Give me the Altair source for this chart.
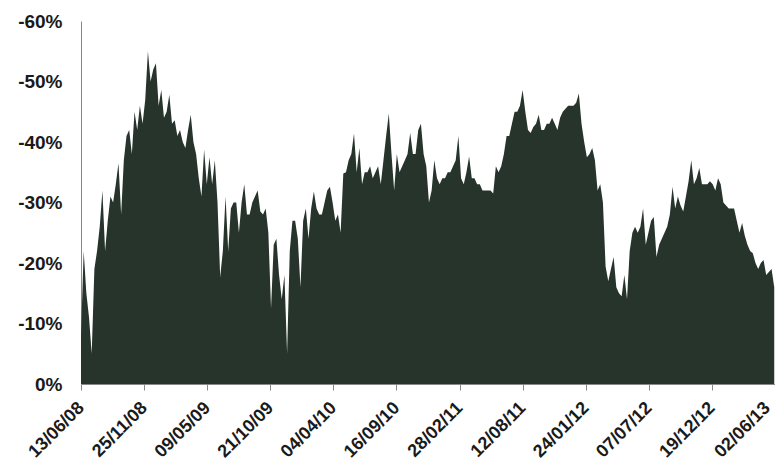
import altair as alt
import pandas as pd

# Drawdown (%), one value per week starting 13/06/08
drawdown_pct = [
    8, 22, 15, 11, 5, 19, 22, 26, 32, 22,
    27, 31, 30, 33, 36.5, 28, 37, 41, 42, 38,
    45, 42, 46, 43, 47, 55, 50, 52, 53, 46,
    48.6, 44, 45, 47.8, 43, 43.6, 41, 42, 40, 39,
    42, 44.5, 40, 38, 34, 31, 38.7, 33, 37.5, 33,
    37, 30, 17.7, 22, 31, 22, 29, 30, 30, 25,
    30, 33, 28, 28, 30, 31, 32, 28.5, 28, 29,
    25, 12.5, 23, 24, 18, 14, 18, 5, 22, 27,
    27, 24, 16, 27, 29, 24, 29, 31.8, 29, 28,
    28, 30, 32, 32.6, 30, 27, 28, 25, 34.8, 35,
    37, 38, 41.4, 35, 39, 33, 35, 35, 36, 34,
    35, 36, 33, 37, 41, 44.7, 38, 32, 38, 35,
    36, 37, 38, 41.5, 38, 38, 42, 43, 38, 36,
    30, 32, 37, 34, 33, 34, 34, 35, 35, 36,
    37, 41, 34, 33, 35, 37.6, 34, 34, 33, 33,
    32, 32, 32, 32, 31.5, 36, 35, 36, 38, 41,
    41, 43, 45, 45, 46, 48.6, 45, 42, 41.5, 42.5,
    43, 44.5, 42, 42, 43, 43, 44, 43, 42, 44,
    45, 45.5, 46, 46, 46, 46.5, 48, 43, 40, 37.5,
    38, 39, 37, 32, 33, 30, 19.4, 17, 19, 21,
    16, 15, 14.5, 18, 14, 22, 25, 26, 25, 26,
    29, 23, 25, 27, 27.6, 21, 23, 24, 25, 26,
    28, 32.6, 29, 31, 29.5, 28.5, 31, 33.5, 37, 33,
    34, 35.7, 33, 33, 33, 33.5, 33, 32, 34, 33,
    30, 29.5, 29, 29, 29, 27, 25, 26.6, 24.5, 23,
    22, 21.6, 20, 19, 20, 20.5, 18, 18.5, 19, 16,
]
start_date = "2008-06-13"
end_date = "2013-06-02"
tick_dates = [
    "2008-06-13", "2008-11-25", "2009-05-09", "2009-10-21",
    "2010-04-04", "2010-09-16", "2011-02-28", "2011-08-12",
    "2012-01-24", "2012-07-07", "2012-12-19", "2013-06-02",
]
y_ticks = [0, -0.1, -0.2, -0.3, -0.4, -0.5, -0.6]

dates = pd.date_range(start_date, periods=len(drawdown_pct), freq="7D").strftime("%Y-%m-%d")
df = pd.DataFrame({"date": list(dates), "dd": [-v / 100 for v in drawdown_pct]})


def ms(s):
    return int(pd.Timestamp(s, tz="UTC").value // 10**6)


tick_ms = [ms(d) for d in tick_dates]
last_tick = tick_ms[-1]

chart = (
    alt.Chart(df)
    .mark_area(color="#26342c", interpolate="linear")
    .encode(
        x=alt.X(
            "date:T",
            scale=alt.Scale(type="utc", domain=[ms(start_date), ms(end_date)], nice=False),
            axis=alt.Axis(
                title=None,
                values=tick_ms,
                labelExpr="utcFormat(datum.value, '%d/%m/%y')",
                labelAngle=315,
                labelAlign="right",
                labelBaseline="middle",
                labelFont="Liberation Sans",
                labelFontSize=18,
                labelFontWeight="bold",
                labelColor="#1a1a1a",
                labelPadding=15,
                labelOffset={
                    "condition": {"test": f"datum.value >= {last_tick}", "value": -8},
                    "value": 0,
                },
                tickSize=6,
                tickColor="#888888",
                domainColor="#888888",
                grid=False,
                labelOverlap=False,
                labelBound=False,
                labelFlush=False,
            ),
        ),
        y=alt.Y(
            "dd:Q",
            scale=alt.Scale(domain=[-0.6, 0], reverse=True, nice=False),
            axis=alt.Axis(
                title=None,
                values=y_ticks,
                labelExpr="datum.value == 0 ? '0%' : '-' + format(abs(datum.value), '.0%')",
                labelFont="Liberation Sans",
                labelFontSize=19,
                labelFontWeight="bold",
                labelColor="#1a1a1a",
                labelPadding=19,
                ticks=False,
                domainColor="#888888",
                grid=False,
                labelOverlap=False,
                labelFlush=False,
            ),
        ),
    )
    .properties(
        width=694,
        height=363,
        autosize=alt.AutoSizeParams(type="none"),
        padding={"left": 73, "top": 13, "right": 0, "bottom": 80},
        background="white",
    )
    .configure_view(stroke=None)
)

chart.save("out.html", embed_options={"renderer": "svg", "actions": False})
